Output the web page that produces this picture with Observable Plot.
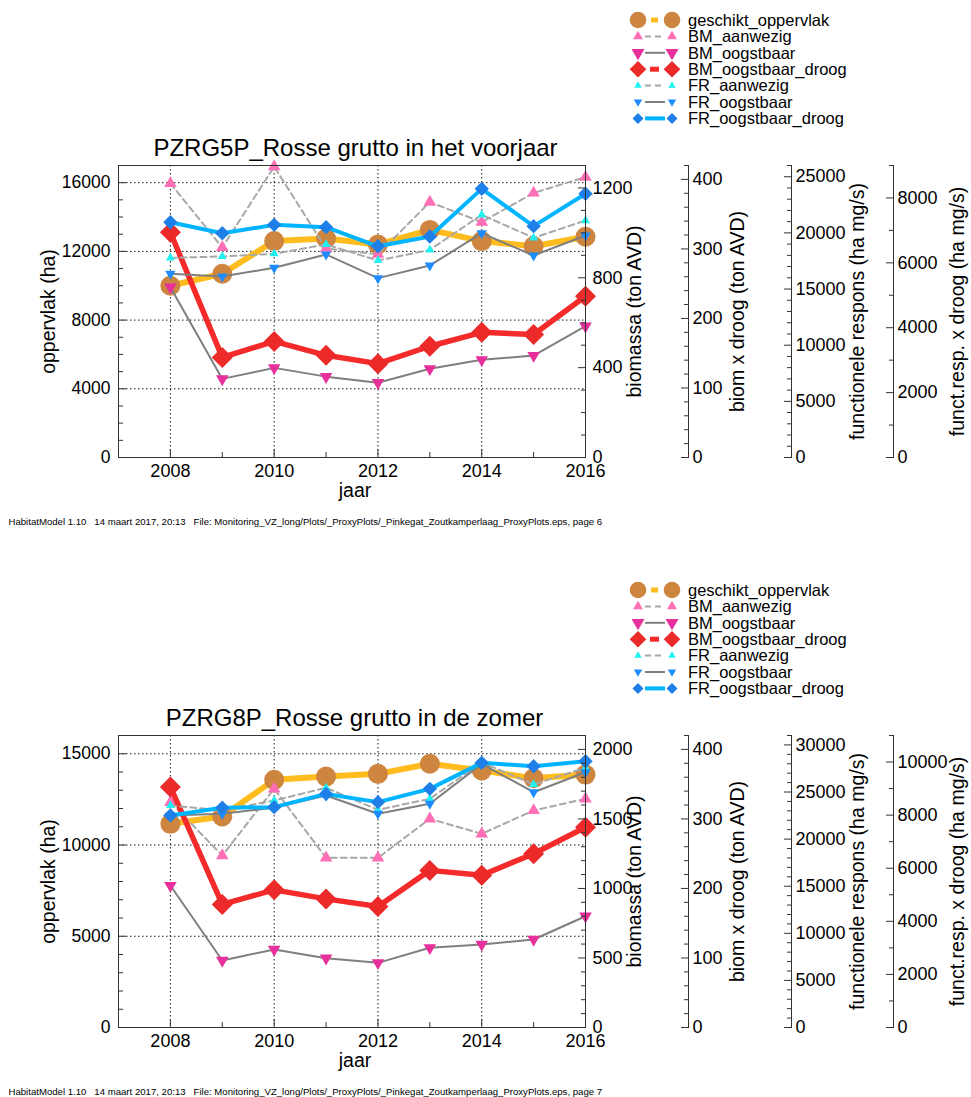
<!DOCTYPE html>
<html><head><meta charset="utf-8">
<script src="https://cdn.jsdelivr.net/npm/d3@7"></script>
<script src="https://cdn.jsdelivr.net/npm/@observablehq/plot@0.6"></script>
<style>
html,body{margin:0;padding:0;background:#fff;overflow:hidden;width:971px;height:1097px;}
.panel{position:absolute;left:0;width:971px;height:527px;}
.legend{position:absolute;left:0;top:0;}
</style></head><body>
<div id="p1" class="panel" style="top:0px"></div>
<div id="p2" class="panel" style="top:570px"></div>
<script>
// ---------- data ----------
const years = [2008, 2009, 2010, 2011, 2012, 2013, 2014, 2015, 2016];
const seriesNames = ["geschikt_oppervlak", "BM_aanwezig", "BM_oogstbaar", "BM_oogstbaar_droog", "FR_aanwezig", "FR_oogstbaar", "FR_oogstbaar_droog"];

// PZRG5P (voorjaar)
const oppervlak_5P   = [10000, 10700, 12600, 12750, 12400, 13250, 12600, 12300, 12850];
const bmAanwezig_5P  = [1220, 935, 1295, 930, 905, 1137, 1048, 1178, 1248];
const bmOogstbaar_5P = [758, 350, 399, 360, 333, 395, 435, 454, 585];
const bmDroog_5P     = [324, 144, 167, 147, 135, 160, 180, 177, 232];
const frAanwezig_5P  = [17780, 17900, 18140, 18970, 17540, 18490, 21610, 19560, 21100];
const frOogstbaar_5P = [16360, 16120, 16890, 18080, 15970, 17100, 19970, 17990, 19770];
const frDroog_5P     = [7250, 6910, 7170, 7100, 6510, 6810, 8280, 7130, 8130];

// PZRG8P (zomer)
const oppervlak_8P   = [11160, 11560, 13570, 13750, 13900, 14450, 14080, 13660, 13860];
const bmAanwezig_8P  = [1620, 1237, 1717, 1220, 1220, 1501, 1393, 1561, 1645];
const bmOogstbaar_8P = [1021, 482, 561, 498, 465, 573, 597, 633, 800];
const bmDroog_8P     = [346, 177, 198, 185, 174, 226, 219, 250, 288];
const frAanwezig_8P  = [23570, 23050, 24100, 25450, 23110, 24280, 28160, 25800, 27570];
const frOogstbaar_8P = [22500, 22690, 23330, 24630, 22690, 23750, 27990, 24980, 27100];
const frDroog_8P     = [7990, 8280, 8300, 8800, 8490, 8990, 9970, 9840, 10030];

// axis ticks
const xMajorTicks = [2008, 2010, 2012, 2014, 2016];
const xMinorTicks = [2009, 2011, 2013, 2015];
const axisLabels = ["oppervlak (ha)", "biomassa (ton AVD)", "biom x droog (ton AVD)", "functionele respons (ha mg/s)", "funct.resp. x droog (ha mg/s)"];

const ticks_5P = [
  {max: 17000, majors: [0, 4000, 8000, 12000, 16000], minorStep: 1000},
  {max: 1300,  majors: [0, 400, 800, 1200], minorStep: 100},
  {max: 420,   majors: [0, 100, 200, 300, 400], minorStep: 20},
  {max: 26000, majors: [0, 5000, 10000, 15000, 20000, 25000], minorStep: 1000},
  {max: 9000,  majors: [0, 2000, 4000, 6000, 8000], minorStep: 1000}
];
const ticks_8P = [
  {max: 16000, majors: [0, 5000, 10000, 15000], minorStep: 1000},
  {max: 2100,  majors: [0, 500, 1000, 1500, 2000], minorStep: 100},
  {max: 420,   majors: [0, 100, 200, 300, 400], minorStep: 20},
  {max: 31000, majors: [0, 5000, 10000, 15000, 20000, 25000, 30000], minorStep: 1000},
  {max: 11000, majors: [0, 2000, 4000, 6000, 8000, 10000], minorStep: 1000}
];

const title_5P = "PZRG5P_Rosse grutto in het voorjaar";
const title_8P = "PZRG8P_Rosse grutto in de zomer";
const footer_5P = "HabitatModel 1.10   14 maart 2017, 20:13   File: Monitoring_VZ_long/Plots/_ProxyPlots/_Pinkegat_Zoutkamperlaag_ProxyPlots.eps, page 6";
const footer_8P = "HabitatModel 1.10   14 maart 2017, 20:13   File: Monitoring_VZ_long/Plots/_ProxyPlots/_Pinkegat_Zoutkamperlaag_ProxyPlots.eps, page 7";

// ---------- symbols ----------
const symDiamond = {draw(ctx, size) { const r = Math.sqrt(size / Math.PI); ctx.moveTo(0, -r); ctx.lineTo(r, 0); ctx.lineTo(0, r); ctx.lineTo(-r, 0); ctx.closePath(); }};
const symTriUp = {draw(ctx, size) { const r = Math.sqrt(size / Math.PI); const h = r * Math.sqrt(3); ctx.moveTo(0, -2 * h / 3); ctx.lineTo(r, h / 3); ctx.lineTo(-r, h / 3); ctx.closePath(); }};
const symTriDown = {draw(ctx, size) { const r = Math.sqrt(size / Math.PI); const h = r * Math.sqrt(3); ctx.moveTo(0, 2 * h / 3); ctx.lineTo(r, -h / 3); ctx.lineTo(-r, -h / 3); ctx.closePath(); }};

// styles per series (index matches seriesNames)
const STYLE = [
  {axis: 0, line: "#ffbc1e", lw: 6,   dash: null,  symbol: d3.symbolCircle, fill: "#cd853f", r: 10,  lr: 8.3, lx: [651, 658]},
  {axis: 1, line: "#a8a8a8", lw: 2,   dash: "6,4", symbol: symTriUp,        fill: "#ff6fb5", r: 6.3, lr: 5,   lx: [645, 665]},
  {axis: 1, line: "#7f7f7f", lw: 2,   dash: null,  symbol: symTriDown,      fill: "#e8309c", r: 6.3, lr: 6.5, lx: [645, 665]},
  {axis: 2, line: "#f52a2a", lw: 5.5, dash: null,  symbol: symDiamond,      fill: "#ec2a2a", r: 10.5,lr: 8.3, lx: [650, 659]},
  {axis: 3, line: "#a8a8a8", lw: 2,   dash: "6,4", symbol: symTriUp,        fill: "#1ff0f0", r: 4.5, lr: 3.7, lx: [645, 665]},
  {axis: 3, line: "#7f7f7f", lw: 2,   dash: null,  symbol: symTriDown,      fill: "#1e8cff", r: 5.2, lr: 4.2, lx: [645, 665]},
  {axis: 4, line: "#00b4ff", lw: 4,   dash: null,  symbol: symDiamond,      fill: "#1f7fe8", r: 7.2, lr: 5.5, lx: [645, 665]}
];

const FONT = "'Liberation Sans', Arial, Helvetica, sans-serif";
const AXIS_DX = [0, 0, 103, 206, 308];
const LABEL_OFF = [-70, 49, 49, 66, 64];
const TICK_GAP = [8, 7, 4, 4, 4];

function minorsOf(a) {
  const out = [];
  for (let t = a.minorStep; t <= a.max + 1e-9; t += a.minorStep) {
    const v = Math.round(t * 1000) / 1000;
    if (!a.majors.includes(v)) out.push(v);
  }
  return out;
}

function buildPanel(el, cfg) {
  const L = cfg.ticks[0].max;
  const marks = [];
  // grid
  const gridStyle = {stroke: "#000", strokeWidth: 1, strokeDasharray: "1.5,2.5", strokeOpacity: 0.9};
  marks.push(Plot.ruleY(cfg.ticks[0].majors.filter(t => t > 0 && t < L), gridStyle));
  marks.push(Plot.ruleX(xMajorTicks.filter(t => t < 2016), gridStyle));
  // series
  cfg.series.forEach((vals, i) => {
    const s = STYLE[i];
    const k = L / cfg.ticks[s.axis].max;
    const rows = years.map((yr, j) => ({yr, v: vals[j] * k}));
    marks.push(Plot.line(rows, {x: "yr", y: "v", stroke: s.line, strokeWidth: s.lw, strokeDasharray: s.dash ?? undefined, strokeLinejoin: "round"}));
    marks.push(Plot.dot(rows, {x: "yr", y: "v", symbol: s.symbol, r: s.r, fill: s.fill, stroke: "none"}));
  });
  marks.push(Plot.frame({stroke: "#333", strokeWidth: 1}));
  // x axis
  marks.push(Plot.axisX(xMajorTicks, {anchor: "bottom", label: null, tickSize: -8, tickPadding: 14.5, tickFormat: d => String(d), fontSize: 18, stroke: "#333"}));
  marks.push(Plot.axisX(xMinorTicks, {anchor: "bottom", label: null, tickSize: -5, tickFormat: () => "", stroke: "#333"}));
  // left axis
  const a0 = cfg.ticks[0];
  marks.push(Plot.axisY(a0.majors, {anchor: "left", label: null, tickSize: -8, tickPadding: 8 + TICK_GAP[0], tickFormat: d => String(d), fontSize: 17.5, stroke: "#333"}));
  marks.push(Plot.axisY(minorsOf(a0), {anchor: "left", label: null, tickSize: -5, tickFormat: () => "", stroke: "#333"}));
  marks.push(Plot.text([axisLabels[0]], {text: d => d, frameAnchor: "left", dx: LABEL_OFF[0], rotate: -90, fontSize: 19.5, textAnchor: "middle", lineAnchor: "middle"}));
  // right axes
  for (let i = 1; i < 5; i++) {
    const a = cfg.ticks[i];
    const k = L / a.max;
    const dx = AXIS_DX[i];
    if (dx > 0) marks.push(Plot.ruleX([2016], {y1: 0, y2: L, dx, stroke: "#333", strokeWidth: 1}));
    marks.push(Plot.axisY(a.majors.map(t => t * k), {anchor: "right", label: null, dx, tickSize: -8, tickPadding: 8 + TICK_GAP[i], tickFormat: d => String(Math.round(d / k)), fontSize: 18, stroke: "#333"}));
    marks.push(Plot.axisY(minorsOf(a).map(t => t * k), {anchor: "right", label: null, dx, tickSize: -5, tickFormat: () => "", stroke: "#333"}));
    marks.push(Plot.text([axisLabels[i]], {text: d => d, frameAnchor: "right", dx: dx + LABEL_OFF[i], rotate: -90, fontSize: 19.5, textAnchor: "middle", lineAnchor: "middle"}));
  }
  // x label, title, footer
  marks.push(Plot.text(["jaar"], {text: d => d, frameAnchor: "bottom", dy: 33, dx: 3, fontSize: 19.5, lineAnchor: "middle"}));
  marks.push(Plot.text([cfg.title], {text: d => d, frameAnchor: "top", dy: -17.5, dx: cfg.titleDx, fontSize: 24, lineAnchor: "middle"}));
  marks.push(Plot.text([cfg.footer], {text: d => d, frameAnchor: "bottom-left", dx: -110, dy: 64, fontSize: 9.6, textAnchor: "start", lineAnchor: "middle"}));

  const chart = Plot.plot({
    width: 971, height: 527,
    marginLeft: 118, marginRight: 386, marginTop: 165, marginBottom: 70,
    x: {domain: [2007, 2016], axis: null},
    y: {domain: [0, L], axis: null},
    style: {fontFamily: FONT, fontSize: "18px", background: "transparent", overflow: "visible", color: "#000"},
    marks
  });
  el.appendChild(chart);

  // legend
  const svg = d3.select(el).append("svg").attr("class", "legend")
    .attr("width", 971).attr("height", 130)
    .style("font-family", FONT);
  seriesNames.forEach((name, i) => {
    const s = STYLE[i];
    const y = 20 + i * 16.4;
    svg.append("line").attr("x1", s.lx[0]).attr("x2", s.lx[1]).attr("y1", y).attr("y2", y)
      .attr("stroke", s.line).attr("stroke-width", Math.min(s.lw, 5)).attr("stroke-dasharray", s.dash);
    [638, 672].forEach(x => {
      svg.append("path").attr("d", d3.symbol(s.symbol, Math.PI * s.lr * s.lr)())
        .attr("transform", `translate(${x},${y})`).attr("fill", s.fill);
    });
    svg.append("text").attr("x", 688).attr("y", y).attr("dy", "0.35em")
      .attr("font-size", 16.5).attr("fill", "#000").text(name);
  });
}

buildPanel(document.getElementById("p1"), {
  ticks: ticks_5P, title: title_5P, footer: footer_5P, titleDx: 3.5,
  series: [oppervlak_5P, bmAanwezig_5P, bmOogstbaar_5P, bmDroog_5P, frAanwezig_5P, frOogstbaar_5P, frDroog_5P]
});
buildPanel(document.getElementById("p2"), {
  ticks: ticks_8P, title: title_8P, footer: footer_8P, titleDx: 2.5,
  series: [oppervlak_8P, bmAanwezig_8P, bmOogstbaar_8P, bmDroog_8P, frAanwezig_8P, frOogstbaar_8P, frDroog_8P]
});
</script>
</body></html>
